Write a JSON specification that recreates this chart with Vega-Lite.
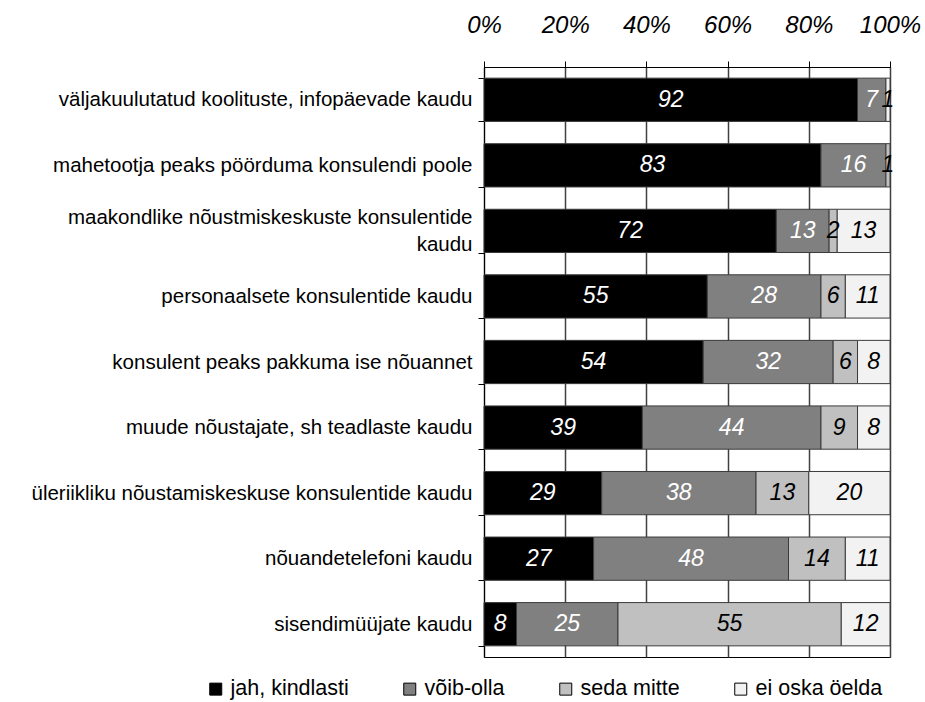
{
  "$schema": "https://vega.github.io/schema/vega-lite/v6.json",
  "width": 406,
  "height": 590,
  "autosize": {"type": "none"},
  "padding": {"left": 484, "top": 67, "right": 35, "bottom": 45},
  "background": "white",
  "config": {
    "font": "Liberation Sans",
    "view": {"stroke": "#000000", "strokeWidth": 1}
  },
  "data": {
    "values": [
      {"item": "väljakuulutatud koolituste, infopäevade kaudu", "answer": "jah, kindlasti", "k": 1, "value": 92},
      {"item": "väljakuulutatud koolituste, infopäevade kaudu", "answer": "võib-olla", "k": 2, "value": 7},
      {"item": "väljakuulutatud koolituste, infopäevade kaudu", "answer": "ei oska öelda", "k": 4, "value": 1},
      {"item": "mahetootja peaks pöörduma konsulendi poole", "answer": "jah, kindlasti", "k": 1, "value": 83},
      {"item": "mahetootja peaks pöörduma konsulendi poole", "answer": "võib-olla", "k": 2, "value": 16},
      {"item": "mahetootja peaks pöörduma konsulendi poole", "answer": "seda mitte", "k": 3, "value": 1},
      {"item": "maakondlike nõustmiskeskuste konsulentide kaudu", "answer": "jah, kindlasti", "k": 1, "value": 72},
      {"item": "maakondlike nõustmiskeskuste konsulentide kaudu", "answer": "võib-olla", "k": 2, "value": 13},
      {"item": "maakondlike nõustmiskeskuste konsulentide kaudu", "answer": "seda mitte", "k": 3, "value": 2},
      {"item": "maakondlike nõustmiskeskuste konsulentide kaudu", "answer": "ei oska öelda", "k": 4, "value": 13},
      {"item": "personaalsete konsulentide kaudu", "answer": "jah, kindlasti", "k": 1, "value": 55},
      {"item": "personaalsete konsulentide kaudu", "answer": "võib-olla", "k": 2, "value": 28},
      {"item": "personaalsete konsulentide kaudu", "answer": "seda mitte", "k": 3, "value": 6},
      {"item": "personaalsete konsulentide kaudu", "answer": "ei oska öelda", "k": 4, "value": 11},
      {"item": "konsulent peaks pakkuma ise nõuannet", "answer": "jah, kindlasti", "k": 1, "value": 54},
      {"item": "konsulent peaks pakkuma ise nõuannet", "answer": "võib-olla", "k": 2, "value": 32},
      {"item": "konsulent peaks pakkuma ise nõuannet", "answer": "seda mitte", "k": 3, "value": 6},
      {"item": "konsulent peaks pakkuma ise nõuannet", "answer": "ei oska öelda", "k": 4, "value": 8},
      {"item": "muude nõustajate, sh teadlaste kaudu", "answer": "jah, kindlasti", "k": 1, "value": 39},
      {"item": "muude nõustajate, sh teadlaste kaudu", "answer": "võib-olla", "k": 2, "value": 44},
      {"item": "muude nõustajate, sh teadlaste kaudu", "answer": "seda mitte", "k": 3, "value": 9},
      {"item": "muude nõustajate, sh teadlaste kaudu", "answer": "ei oska öelda", "k": 4, "value": 8},
      {"item": "üleriikliku nõustamiskeskuse konsulentide kaudu", "answer": "jah, kindlasti", "k": 1, "value": 29},
      {"item": "üleriikliku nõustamiskeskuse konsulentide kaudu", "answer": "võib-olla", "k": 2, "value": 38},
      {"item": "üleriikliku nõustamiskeskuse konsulentide kaudu", "answer": "seda mitte", "k": 3, "value": 13},
      {"item": "üleriikliku nõustamiskeskuse konsulentide kaudu", "answer": "ei oska öelda", "k": 4, "value": 20},
      {"item": "nõuandetelefoni kaudu", "answer": "jah, kindlasti", "k": 1, "value": 27},
      {"item": "nõuandetelefoni kaudu", "answer": "võib-olla", "k": 2, "value": 48},
      {"item": "nõuandetelefoni kaudu", "answer": "seda mitte", "k": 3, "value": 14},
      {"item": "nõuandetelefoni kaudu", "answer": "ei oska öelda", "k": 4, "value": 11},
      {"item": "sisendimüüjate kaudu", "answer": "jah, kindlasti", "k": 1, "value": 8},
      {"item": "sisendimüüjate kaudu", "answer": "võib-olla", "k": 2, "value": 25},
      {"item": "sisendimüüjate kaudu", "answer": "seda mitte", "k": 3, "value": 55},
      {"item": "sisendimüüjate kaudu", "answer": "ei oska öelda", "k": 4, "value": 12}
    ]
  },
  "transform": [
    {"stack": "value", "groupby": ["item"], "sort": [{"field": "k", "order": "ascending"}], "as": ["x0", "x1"]},
    {"calculate": "(datum.x0 + datum.x1) / 2", "as": "mid"}
  ],
  "encoding": {
    "y": {
      "field": "item",
      "type": "nominal",
      "sort": [
        "väljakuulutatud koolituste, infopäevade kaudu",
        "mahetootja peaks pöörduma konsulendi poole",
        "maakondlike nõustmiskeskuste konsulentide kaudu",
        "personaalsete konsulentide kaudu",
        "konsulent peaks pakkuma ise nõuannet",
        "muude nõustajate, sh teadlaste kaudu",
        "üleriikliku nõustamiskeskuse konsulentide kaudu",
        "nõuandetelefoni kaudu",
        "sisendimüüjate kaudu"
      ],
      "scale": {"paddingInner": 0.34, "paddingOuter": 0.17},
      "axis": {
        "title": null,
        "domainColor": "#000000",
        "tickColor": "#000000",
        "tickSize": 6,
        "tickBand": "extent",
        "labelFontSize": 20.5,
        "labelColor": "#000000",
        "labelPadding": 6,
        "labelLimit": 600,
        "labelLineHeight": 27,
        "labelOffset": {"condition": {"test": "datum.value == 'maakondlike nõustmiskeskuste konsulentide kaudu'", "value": -13}, "value": 0},
        "labelExpr": "datum.value == 'maakondlike nõustmiskeskuste konsulentide kaudu' ? ['maakondlike nõustmiskeskuste konsulentide', 'kaudu\u00a0\u00a0\u00a0\u00a0\u00a0\u00a0\u00a0\u00a0\u00a0\u00a0\u00a0\u00a0\u00a0\u00a0\u00a0\u00a0\u00a0\u00a0\u00a0\u00a0\u00a0\u00a0\u00a0\u00a0\u00a0\u00a0\u00a0\u00a0\u00a0\u00a0'] : datum.value"
      }
    }
  },
  "layer": [
    {
      "mark": {"type": "bar", "stroke": "#3a3a3a", "strokeWidth": 1},
      "encoding": {
        "x": {
          "field": "x0",
          "type": "quantitative",
          "scale": {"domain": [0, 100], "nice": false},
          "axis": {
            "orient": "top",
            "title": null,
            "values": [0, 20, 40, 60, 80, 100],
            "labelExpr": "datum.value + '%'",
            "labelFontSize": 24,
            "labelFontStyle": "italic",
            "labelColor": "#000000",
            "labelPadding": 24,
            "labelOverlap": false,
            "labelFlush": false,
            "tickSize": 6,
            "tickColor": "#000000",
            "domainColor": "#000000",
            "grid": true,
            "gridColor": "#404040",
            "gridWidth": 1.5,
            "gridOpacity": 1
          }
        },
        "x2": {"field": "x1"},
        "color": {
          "field": "answer",
          "type": "nominal",
          "scale": {
            "domain": ["jah, kindlasti", "võib-olla", "seda mitte", "ei oska öelda"],
            "range": ["#000000", "#808080", "#c0c0c0", "#f2f2f2"]
          },
          "legend": {
            "title": null,
            "orient": "none",
            "direction": "horizontal",
            "legendX": -279,
            "legendY": 611,
            "symbolType": "square",
            "symbolSize": 144,
            "symbolStrokeColor": "#000000",
            "symbolStrokeWidth": 1,
            "symbolOpacity": 1,
            "labelFontSize": 21.5,
            "labelColor": "#000000",
            "labelOffset": 4,
            "columnPadding": 50,
            "labelLimit": 300
          }
        }
      }
    },
    {
      "mark": {"type": "text", "fontSize": 23, "fontStyle": "italic", "baseline": "middle", "align": "center"},
      "encoding": {
        "x": {"field": "mid", "type": "quantitative"},
        "text": {"field": "value", "type": "quantitative"},
        "color": {
          "condition": {"test": "datum.k <= 2", "value": "#ffffff"},
          "value": "#000000"
        }
      }
    }
  ]
}
